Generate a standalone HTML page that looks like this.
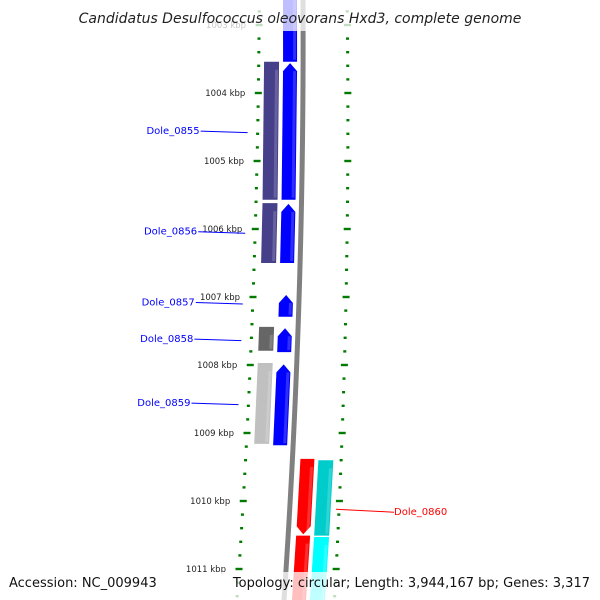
<!DOCTYPE html>
<html><head><meta charset="utf-8"><style>
body{margin:0;background:#fff}
svg{display:block}
text{font-family:"DejaVu Sans","Liberation Sans",sans-serif}
</style></head><body>
<svg id="map" width="600" height="600" viewBox="0 0 600 600" xmlns="http://www.w3.org/2000/svg">
<g id="ticks"></g>
<g id="backbone"></g>
<g id="genes"></g>
<g id="labels"></g>
<rect x="0" y="0" width="600" height="31" fill="#fff" opacity="0.75"/>
<text x="300" y="23" text-anchor="middle" font-size="14" font-style="italic" fill="#222">Candidatus Desulfococcus oleovorans Hxd3, complete genome</text>
<rect x="0" y="572" width="600" height="28" fill="#fff" opacity="0.75"/>
<text x="9" y="587" font-size="13" fill="#111">Accession: NC_009943</text>
<text x="590" y="587" text-anchor="end" font-size="13" fill="#111">Topology: circular; Length: 3,944,167 bp; Genes: 3,317</text>
</svg>
<script>
const majorKbp=[1003,1004,1005,1006,1007,1008,1009,1010,1011];
const geneNames=["geneA","Dole_0855","Dole_0856","Dole_0857","Dole_0858","Dole_0859","Dole_0860a","Dole_0860b"];
const geneStart=[1002.5,1003.56,1005.63,1006.97,1007.46,1007.99,1009.38,1010.51];
const geneEnd=[1003.54,1005.57,1006.50,1007.29,1007.81,1009.18,1010.49,1011.7];
const geneLane=["fwd","fwd","fwd","fwd","fwd","fwd","rev","rev"];
const geneDir=[1,1,1,1,1,1,-1,-1];
const geneColor=["#0000ff","#0000ff","#0000ff","#0000ff","#0000ff","#0000ff","#ff0000","#ff0000"];
const cdsStart=[1003.54,1005.62,1007.44,1007.97,1009.40,1010.53];
const cdsEnd=[1005.57,1006.50,1007.79,1009.16,1010.51,1011.7];
const cdsLane=["in","in","in","in","out","out"];
const cdsColor=["#46408a","#46408a","#666666","#c0c0c0","#00cccc","#00ffff"];
const labelText=["Dole_0855","Dole_0856","Dole_0857","Dole_0858","Dole_0859","Dole_0860"];
const labelKbp=[1004.56,1006.04,1007.08,1007.62,1008.56,1010.15];

const NS="http://www.w3.org/2000/svg";
const yOf=k=>93+(k-1004)*68;
const leftX=y=>259.27-0.00525*y-0.0000534*y*y;
const rightX=y=>347.07+0.0139*y-0.0000582*y*y;
const bbX=y=>303+0.005*y-0.0000611*y*y;
function mk(tag,attrs,parent){const e=document.createElementNS(NS,tag);for(const k in attrs)e.setAttribute(k,attrs[k]);parent.appendChild(e);return e;}
const tg=document.getElementById('ticks');
for(let k=1002.6;k<1011.8;k+=0.2){
  const kk=Math.round(k*5)/5, y=yOf(kk), major=Math.abs(kk-Math.round(kk))<0.01;
  const w=major?7:3;
  let r=mk('rect',{x:leftX(y)-w/2,y:y-1.2,width:w,height:2.4,fill:'#007a00'},tg);
  
  
  let r2=mk('rect',{x:rightX(y)-w/2,y:y-1.2,width:w,height:2.4,fill:'#007a00'},tg);
  
  
}
majorKbp.forEach(k=>{const y=yOf(k);
  const t=mk('text',{x:leftX(y)-13,y:y+3,'text-anchor':'end','font-size':'8.5',fill:'#222'},tg);
  t.textContent=k+' kbp';
  
  
});
const bg=document.getElementById('backbone');
let pts=[],pts2=[];
for(let y=0;y<=600;y+=20){pts.push([bbX(y)-2.5,y]);pts2.unshift([bbX(y)+2.5,y]);}
const bb=mk('polygon',{points:pts.concat(pts2).map(p=>p.join(',')).join(' '),fill:'#808080'},bg);


const lanes={fwd:[-20,-6],rev:[8,22],in:[-39,-24],out:[26,41]};
const gg=document.getElementById('genes');
function feature(s,e,lane,dir,color,name){
  const y1=yOf(s),y2=yOf(e),[a,b]=lanes[lane];
  const L=y=>bbX(y)+a,R=y=>bbX(y)+b;let p;
  const h=8;
  if(dir===1){const m=(L(y1)+R(y1))/2;p=[[m,y1],[R(y1+h),y1+h],[R(y2),y2],[L(y2),y2],[L(y1+h),y1+h]];}
  else if(dir===-1){const m=(L(y2)+R(y2))/2;p=[[L(y1),y1],[R(y1),y1],[R(y2-h),y2-h],[m,y2],[L(y2-h),y2-h]];}
  else p=[[L(y1),y1],[R(y1),y1],[R(y2),y2],[L(y2),y2]];
  const el=mk('polygon',{points:p.map(q=>q.join(',')).join(' '),fill:color},gg);
  
  
  const hl=mk('polygon',{points:[[R(y1+h)-4,y1+h],[R(y1+h)-1,y1+h],[R(y2-2)-1,y2-2],[R(y2-2)-4,y2-2]].map(q=>q.join(',')).join(' '),fill:'#fff',opacity:0.18},gg);
  
  
}
geneStart.forEach((s,i)=>feature(s,geneEnd[i],geneLane[i],geneDir[i],geneColor[i],'gene-'+geneNames[i]));
cdsStart.forEach((s,i)=>feature(s,cdsEnd[i],cdsLane[i],0,cdsColor[i],'cds-feature'));
const lg=document.getElementById('labels');
labelText.forEach((t,i)=>{const y=yOf(labelKbp[i]);const red=i===5;
  const col=red?'#ff0000':'#0000ff';
  if(red){
    const ln=mk('line',{x1:rightX(y)-3,y1:y-2,x2:394,y2:y+1,stroke:col,'stroke-width':1},lg);
    
    
    const tx=mk('text',{x:394,y:y+4,'font-size':'10',fill:col},lg);tx.textContent=t;
    
    
  } else {
    const xe=leftX(y)-10;
    const ln=mk('line',{x1:xe-47,y1:y,x2:xe,y2:y+1.5,stroke:col,'stroke-width':1},lg);
    
    
    const tx=mk('text',{x:xe-48,y:y+3,'text-anchor':'end','font-size':'10',fill:col},lg);tx.textContent=t;
    
    
  }
});
</script>
</body></html>
